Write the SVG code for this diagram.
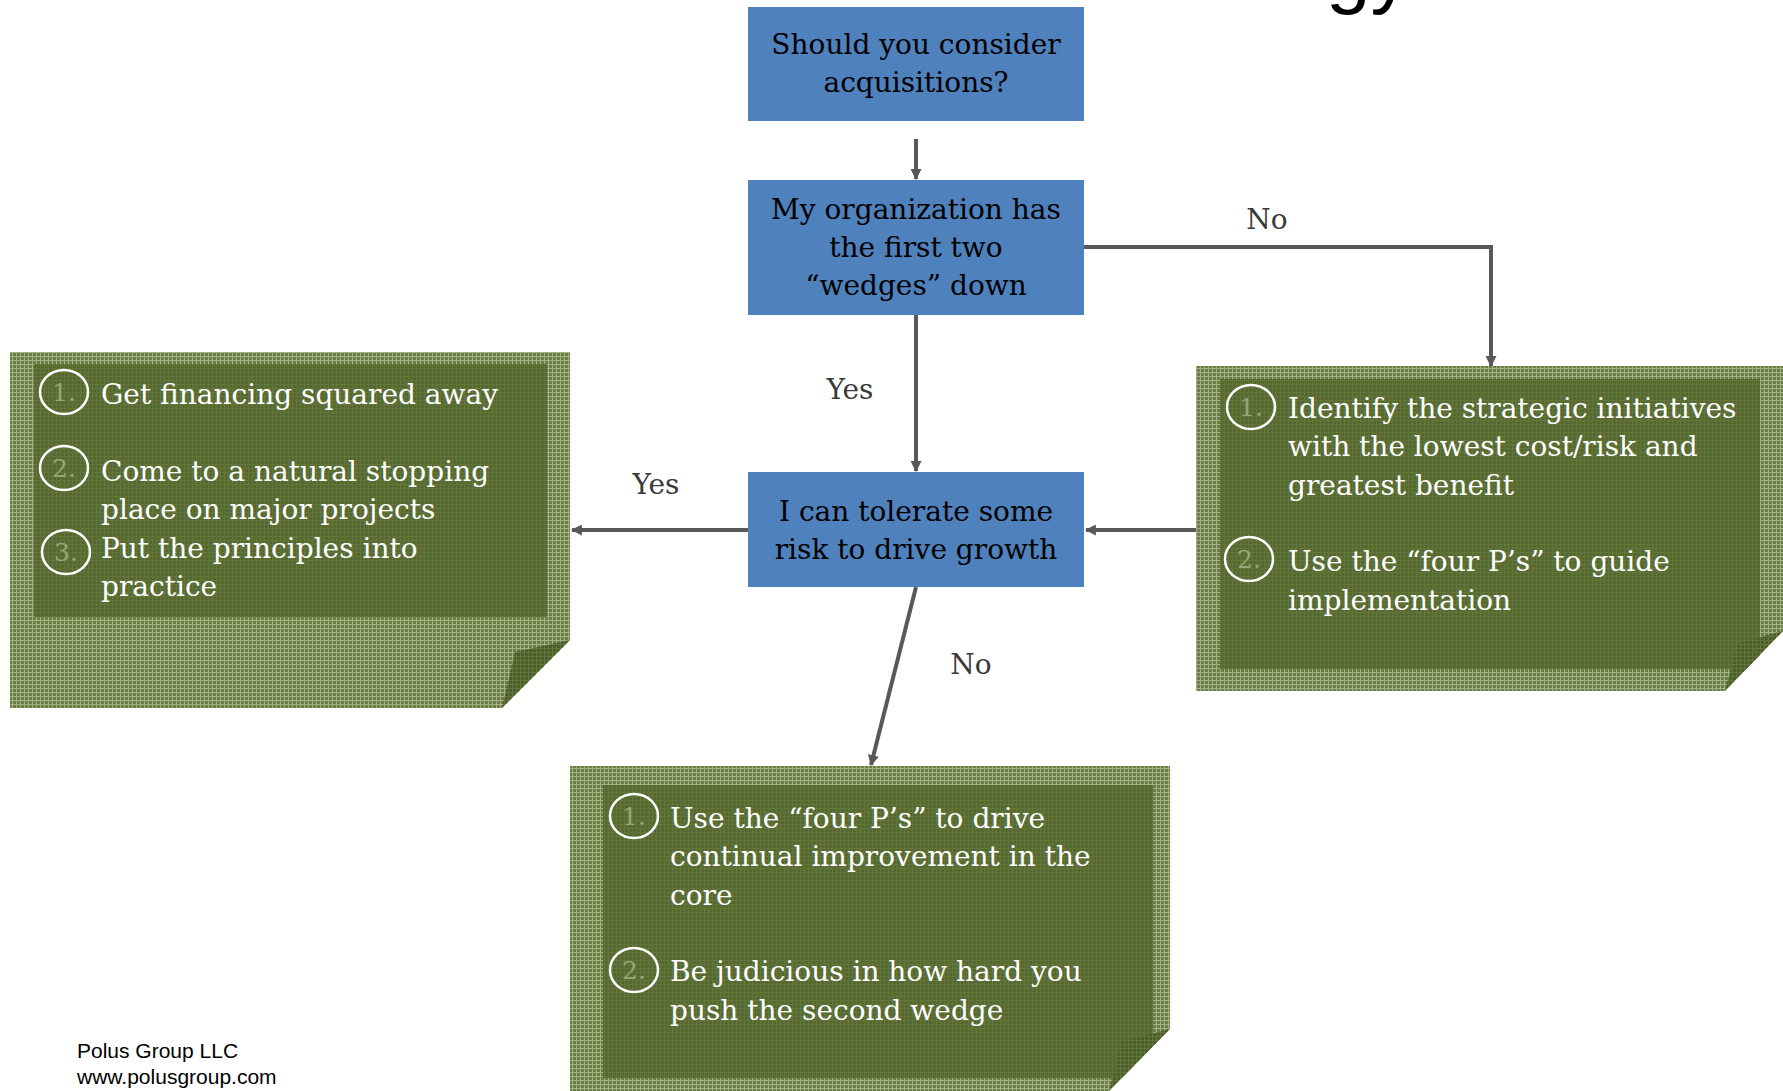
<svg xmlns="http://www.w3.org/2000/svg" width="1783" height="1091" viewBox="0 0 1783 1091">
<defs>
<pattern id="mesh" width="4" height="4" patternUnits="userSpaceOnUse">
<rect width="4" height="4" fill="#6c7e46"/>
<rect width="4" height="1" fill="#a3b184"/>
<rect width="1" height="4" fill="#a3b184"/>
</pattern>
<pattern id="meshIn" width="4" height="4" patternUnits="userSpaceOnUse">
<rect width="4" height="4" fill="#566930"/>
<rect width="4" height="1" fill="#62763b"/>
<rect width="1" height="4" fill="#62763b"/>
</pattern>
<pattern id="meshFold" width="4" height="4" patternUnits="userSpaceOnUse">
<rect width="4" height="4" fill="#4c5f27"/>
<rect width="4" height="1" fill="#627540"/>
<rect width="1" height="4" fill="#627540"/>
</pattern>
<marker id="arr" viewBox="0 0 10 10" refX="9" refY="5" markerWidth="11" markerHeight="11" markerUnits="userSpaceOnUse" orient="auto">
<path d="M0,0 L10,5 L0,10 Z" fill="#595959"/>
</marker>
<style>
.box{fill:#4f81bd}
.bt{font-family:"DejaVu Serif","Liberation Serif",serif;font-size:28px;fill:#000;text-anchor:middle}
.lbl{font-family:"DejaVu Serif","Liberation Serif",serif;font-size:28px;fill:#3a3a3a;text-anchor:middle}
.nt{font-family:"DejaVu Serif","Liberation Serif",serif;font-size:28px;fill:#ffffff}
.num{font-family:"DejaVu Serif","Liberation Serif",serif;font-size:25px;fill:#97a678;text-anchor:middle}
.circ{fill:none;stroke:#ffffff;stroke-width:2.5}
.outer{fill:url(#mesh)}
.inner{fill:url(#meshIn)}
.fold{fill:url(#meshFold)}
.con{fill:none;stroke:#595959;stroke-width:4;marker-end:url(#arr)}
.foot{font-family:"Liberation Sans",Arial,sans-serif;font-size:21px;fill:#000}
</style>
</defs>
<rect width="1783" height="1091" fill="#ffffff"/>
<text x="1326" y="-2" font-family="Liberation Sans, Arial, sans-serif" font-size="80" fill="#000">gy</text>

<g id="connectors">
<line class="con" x1="916" y1="139" x2="916" y2="179"/>
<line class="con" x1="916" y1="315" x2="916" y2="471"/>
<polyline class="con" points="1084,247 1491,247 1491,366"/>
<line class="con" x1="748" y1="530" x2="572" y2="530"/>
<line class="con" x1="1196" y1="530" x2="1086" y2="530"/>
<line class="con" x1="916" y1="587" x2="871" y2="765"/>
<text class="lbl" x="850" y="399">Yes</text>
<text class="lbl" x="1267" y="229">No</text>
<text class="lbl" x="656" y="494">Yes</text>
<text class="lbl" x="971" y="674">No</text>
</g>

<g id="q1">
<rect class="box" x="748" y="7" width="336" height="114"/>
<text class="bt" x="916" y="54">Should you consider</text>
<text class="bt" x="916" y="92">acquisitions?</text>
</g>

<g id="q2">
<rect class="box" x="748" y="180" width="336" height="135"/>
<text class="bt" x="916" y="219">My organization has</text>
<text class="bt" x="916" y="257">the first two</text>
<text class="bt" x="916" y="295">“wedges” down</text>
</g>

<g id="q3">
<rect class="box" x="748" y="472" width="336" height="115"/>
<text class="bt" x="916" y="521">I can tolerate some</text>
<text class="bt" x="916" y="559">risk to drive growth</text>
</g>

<g id="note-left">
<polygon class="outer" points="10,352 570,352 570,640 502,708 10,708"/>
<rect class="inner" x="34" y="364" width="513" height="253"/>
<polygon class="fold" points="570,640 515,652 502,708"/>
<ellipse class="circ" cx="64" cy="392" rx="24" ry="22"/>
<text class="num" x="64" y="401">1.</text>
<ellipse class="circ" cx="64" cy="468" rx="24" ry="22"/>
<text class="num" x="64" y="477">2.</text>
<ellipse class="circ" cx="66" cy="552" rx="24" ry="22"/>
<text class="num" x="66" y="561">3.</text>
<text class="nt" x="101" y="404">Get financing squared away</text>
<text class="nt" x="101" y="481">Come to a natural stopping</text>
<text class="nt" x="101" y="519">place on major projects</text>
<text class="nt" x="101" y="558">Put the principles into</text>
<text class="nt" x="101" y="596">practice</text>
</g>

<g id="note-right">
<polygon class="outer" points="1196,366 1783,366 1783,631 1725,691 1196,691"/>
<polygon class="inner" points="1220,379 1760,379 1760,655 1746,669 1220,669"/>
<polygon class="fold" points="1783,631 1738,643 1725,691"/>
<ellipse class="circ" cx="1251" cy="407" rx="24" ry="22"/>
<text class="num" x="1251" y="416">1.</text>
<ellipse class="circ" cx="1249" cy="559" rx="24" ry="22"/>
<text class="num" x="1249" y="568">2.</text>
<text class="nt" x="1288" y="418">Identify the strategic initiatives</text>
<text class="nt" x="1288" y="456">with the lowest cost/risk and</text>
<text class="nt" x="1288" y="495">greatest benefit</text>
<text class="nt" x="1288" y="571">Use the “four P’s” to guide</text>
<text class="nt" x="1288" y="610">implementation</text>
</g>

<g id="note-bottom">
<polygon class="outer" points="570,766 1170,766 1170,1029 1109,1091 570,1091"/>
<polygon class="inner" points="603,785 1153,785 1153,1046 1122,1078 603,1078"/>
<polygon class="fold" points="1170,1029 1122,1041 1109,1091"/>
<ellipse class="circ" cx="634" cy="816" rx="24" ry="22"/>
<text class="num" x="634" y="825">1.</text>
<ellipse class="circ" cx="634" cy="970" rx="24" ry="22"/>
<text class="num" x="634" y="979">2.</text>
<text class="nt" x="670" y="828">Use the “four P’s” to drive</text>
<text class="nt" x="670" y="866">continual improvement in the</text>
<text class="nt" x="670" y="905">core</text>
<text class="nt" x="670" y="981">Be judicious in how hard you</text>
<text class="nt" x="670" y="1020">push the second wedge</text>
</g>

<g id="footer">
<text class="foot" x="77" y="1058">Polus Group LLC</text>
<text class="foot" x="77" y="1084">www.polusgroup.com</text>
</g>
</svg>
